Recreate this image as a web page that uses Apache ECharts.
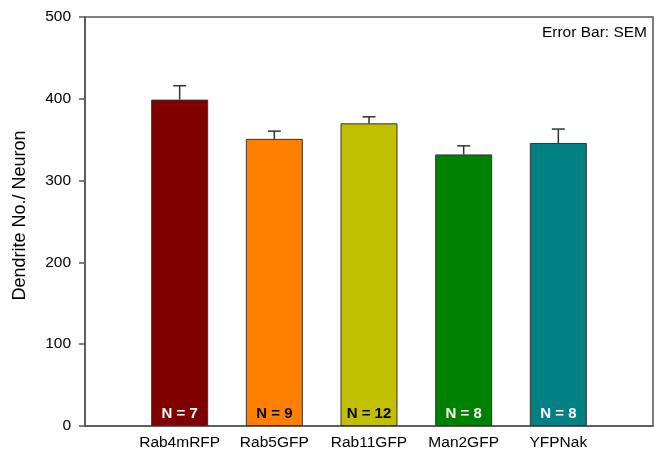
<!DOCTYPE html>
<html>
<head>
<meta charset="utf-8">
<script src="https://cdn.jsdelivr.net/npm/echarts@6/dist/echarts.min.js"></script>
<style>
  html, body { margin: 0; padding: 0; background: #fff; }
  #chart { width: 664px; height: 454px; }
</style>
</head>
<body>
<div id="chart"></div>
<script>
// Dendrite counts per neuron for each construct
const categories = ['Rab4mRFP', 'Rab5GFP', 'Rab11GFP', 'Man2GFP', 'YFPNak'];
const means = [399, 351, 370, 332, 346];
const sems = [17, 9.5, 8, 10.5, 17];
const sampleSizes = [7, 9, 12, 8, 8];
const barColors = ['#800000', '#FF8000', '#C0C000', '#008000', '#008080'];
const labelColors = ['#ffffff', '#000000', '#000000', '#ffffff', '#ffffff'];
const yTicks = [0, 100, 200, 300, 400, 500];

const FONT = '"Liberation Sans", Arial, sans-serif';
const chart = echarts.init(document.getElementById('chart'));

// bars sit at positions 1..5 on a 0..6 axis
const barData = means.map((v, i) => ({
  value: [i + 1, v],
  itemStyle: { color: barColors[i] },
  label: { color: labelColors[i] }
}));
const errData = means.map((v, i) => [i + 1, v, v + sems[i]]);

chart.setOption({
  animation: false,
  grid: {
    left: 85, right: 11, top: 17, bottom: 28,
    show: true, borderColor: '#555', borderWidth: 1.5, backgroundColor: 'transparent'
  },
  xAxis: {
    type: 'value', min: 0, max: 6, interval: 1,
    axisLine: { show: true, lineStyle: { color: '#555', width: 1.5 } },
    axisTick: { show: false },
    splitLine: { show: false },
    axisLabel: {
      fontFamily: FONT, fontSize: 15.5, color: '#000', margin: 9,
      formatter: v => categories[v - 1] || ''
    }
  },
  yAxis: {
    type: 'value', min: 0, max: 500, interval: 100,
    name: 'Dendrite No./ Neuron', nameLocation: 'middle', nameGap: 56,
    nameTextStyle: { fontFamily: FONT, fontSize: 18, color: '#000', padding: [0, 0, 0, 12] },
    axisLine: { show: true, lineStyle: { color: '#555', width: 1.5 } },
    axisTick: { show: true, inside: false, length: 6, lineStyle: { color: '#555', width: 1.5 } },
    splitLine: { show: false },
    axisLabel: {
      fontFamily: FONT, fontSize: 15.5, color: '#000', margin: 14,
      formatter: v => yTicks.includes(v) ? String(v) : ''
    }
  },
  graphic: [{
    type: 'text', right: 17, top: 25,
    style: { text: 'Error Bar: SEM', fontFamily: FONT, fontSize: 15.5, fill: '#000' }
  }],
  series: [
    {
      type: 'bar',
      data: barData,
      barWidth: 57,
      itemStyle: { borderColor: '#333', borderWidth: 1 },
      label: {
        show: true, position: 'insideBottom', distance: 5,
        fontFamily: FONT, fontSize: 15, fontWeight: 'bold',
        formatter: p => 'N = ' + sampleSizes[p.dataIndex]
      },
      z: 2
    },
    {
      type: 'custom',
      data: errData,
      renderItem: (params, api) => {
        const x = api.value(0);
        const base = api.coord([x, api.value(1)]);
        const top = api.coord([x, api.value(2)]);
        const half = 6.5;
        const style = { stroke: '#333', lineWidth: 1.5 };
        return {
          type: 'group',
          children: [
            { type: 'line', shape: { x1: base[0], y1: base[1], x2: top[0], y2: top[1] }, style },
            { type: 'line', shape: { x1: top[0] - half, y1: top[1], x2: top[0] + half, y2: top[1] }, style }
          ]
        };
      },
      z: 3
    }
  ]
});
</script>
</body>
</html>
